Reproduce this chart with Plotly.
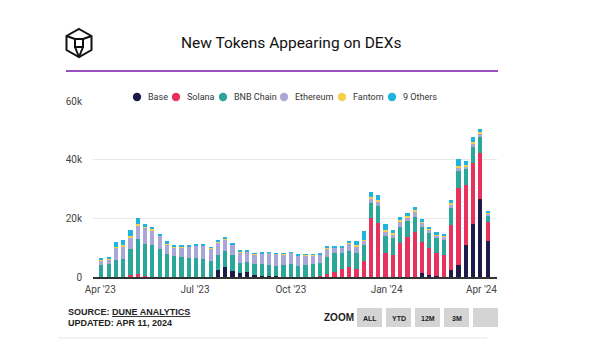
import pandas as pd
import plotly.graph_objects as go

# ---------------- data ----------------
weeks = pd.date_range("2023-04-02", periods=54, freq="7D")

base = [0, 0, 0, 0, 0, 0, 0, 0, 0, 0, 0, 0, 0, 0, 0, 0, 2.3, 3.3, 2.2, 1.5,
        1.6, 0.6, 0.5, 0.3, 0.2, 0, 0, 0, 0, 0, 0, 0, 0, 0, 0, 0, 0, 0, 0, 0,
        0, 0, 0, 0, 1.4, 0.7, 0.2, 0, 2.4, 4.1, 10.9, 18.1, 26.5, 12.4]
solana = [0, 0, 0, 0, 0.8, 1.0, 0.2, 0.1, 0.1, 0, 0, 0, 0, 0, 0, 0, 0, 0, 0, 0,
          0, 0, 0, 0, 0, 0, 0, 0, 0, 0, 0.2, 0.9, 1.7, 2.7, 3.4, 2.7, 5.3, 20.1, 18.5, 8.3,
          7.5, 11.6, 13.5, 15.3, 10.5, 9.2, 7.9, 7.4, 15.3, 26.4, 20.4, 20.7, 15.9, 6.5]
bnb = [4.0, 4.3, 5.7, 6.25, 8.6, 12.1, 11.2, 10.9, 9.3, 8.0, 7.2, 6.8, 6.4, 6.6, 6.0, 5.5, 5.3, 5.6, 5.2, 3.4,
       3.6, 3.9, 3.9, 3.8, 3.55, 4.0, 4.5, 3.8, 4.1, 4.3, 4.7, 5.8, 6.4, 5.4, 5.6, 5.4, 5.6, 5.2, 5.8, 5.7,
       5.7, 5.6, 5.6, 5.3, 5.0, 5.0, 5.1, 5.2, 5.7, 5.6, 5.4, 5.6, 5.4, 2.2]
ethereum = [1.7, 1.6, 4.5, 4.25, 4.0, 4.5, 5.4, 4.9, 4.6, 3.1, 3.0, 3.4, 3.9, 4.2, 4.6, 4.3, 4.2, 3.9, 3.7, 3.6,
            3.4, 3.3, 3.6, 4.1, 4.1, 3.8, 3.7, 3.5, 3.3, 3.1, 2.8, 3.1, 2.0, 2.0, 2.5, 2.4, 1.5, 1.5, 1.4, 1.5,
            1.4, 1.7, 1.2, 1.7, 1.6, 1.4, 1.1, 1.2, 1.3, 1.2, 1.1, 1.2, 1.2, 0.6]
fantom = [0.1, 0.1, 0.1, 0.3, 0.5, 0.4, 0.4, 0.3, 0.2, 0.2, 0.1, 0.1, 0.1, 0.1, 0.1, 0.1, 0.2, 0.3, 0.1, 0.2,
          0.2, 0.1, 0.1, 0.1, 0.1, 0.1, 0.1, 0.1, 0.1, 0.1, 0.1, 0.1, 0.1, 0.1, 0.3, 0.3, 0.3, 0.6, 0.6, 0.5,
          0.4, 0.4, 0.4, 0.4, 0.3, 0.3, 0.3, 0.3, 0.4, 0.4, 0.4, 0.4, 0.3, 0.2]
others = [0.8, 0.8, 1.6, 1.7, 2.0, 2.1, 0.8, 0.8, 0.6, 1.1, 0.5, 0.5, 0.3, 0.5, 0.3, 0.3, 0.5, 0.5, 0.4, 0.4,
          0.5, 0.2, 0.2, 0.2, 0.15, 0.2, 0.2, 0.2, 0.3, 0.3, 0.3, 0.4, 0.4, 0.4, 0.5, 1.6, 3.0, 1.7, 1.5, 2.0,
          1.0, 1.0, 1.0, 1.1, 1.0, 0.6, 0.6, 0.6, 1.2, 2.4, 1.3, 1.6, 1.0, 0.7]

series_names = ["Base", "Solana", "BNB Chain", "Ethereum", "Fantom", "9 Others"]
series_values = [base, solana, bnb, ethereum, fantom, others]
series_colors = ["#1d1b4a", "#e8315b", "#2aa799", "#aba6d8", "#f6d04d", "#1fb3e0"]

x_tick_vals = ["2023-04-01", "2023-07-01", "2023-10-01", "2024-01-01", "2024-04-01"]
x_tick_text = ["Apr '23", "Jul '23", "Oct '23", "Jan '24", "Apr '24"]
y_tick_vals = [0, 20000, 40000, 60000]
y_tick_text = ["0", "20k", "40k", "60k"]

# ---------------- layout geometry (pixels) ----------------
W, H = 600, 351
L, R, T, B = 93, 497, 101, 277
pw, ph = R - L, B - T


def px(x):
    return (x - L) / pw


def py(y):
    return (B - y) / ph


fig = go.Figure()
for name, vals, col in zip(series_names, series_values, series_colors):
    fig.add_trace(go.Bar(x=weeks, y=[v * 1000 for v in vals], name=name,
                         marker=dict(color=col, line=dict(width=0)),
                         showlegend=False))

shapes = []
annotations = []
BOLD = "Liberation Sans, Arial, sans-serif"
SANS = "Roboto, Open Sans, sans-serif"

# legend (circle markers + labels)
leg_circle_x = [137, 176, 223, 284, 342, 392]
leg_y = 97
for name, col, cxl in zip(series_names, series_colors, leg_circle_x):
    shapes.append(dict(type="circle", xref="paper", yref="paper",
                       x0=px(cxl - 4.2), x1=px(cxl + 4.2), y0=py(leg_y + 4.2), y1=py(leg_y - 4.2),
                       fillcolor=col, line=dict(width=0)))
    annotations.append(dict(text=name, xref="paper", yref="paper",
                            x=px(cxl + 9), y=py(leg_y), xanchor="left", yanchor="middle",
                            showarrow=False,
                            font=dict(family=SANS, size=9, color="#333")))

# purple rule under title
shapes.append(dict(type="line", xref="paper", yref="paper",
                   x0=px(66), x1=px(498), y0=py(71), y1=py(71),
                   line=dict(color="#9b4fc4", width=2)))
# bottom light rule
shapes.append(dict(type="line", xref="paper", yref="paper",
                   x0=px(58), x1=px(487), y0=py(338), y1=py(338),
                   line=dict(color="#e6e6e6", width=1)))
# logo: hexagon cube
cx, cy, r = 79, 43, 14
hexpts = [(cx, cy - r), (cx + 12.5, cy - r / 2), (cx + 12.5, cy + r / 2),
          (cx, cy + r), (cx - 12.5, cy + r / 2), (cx - 12.5, cy - r / 2)]
path = "M " + " L ".join(f"{px(a)},{py(b)}" for a, b in hexpts) + " Z"
shapes.append(dict(type="path", xref="paper", yref="paper", path=path,
                   line=dict(color="#111", width=2)))
sq = [(cx - 4, cy - 4), (cx + 4, cy - 4), (cx + 4, cy + 4), (cx - 4, cy + 4)]
path = "M " + " L ".join(f"{px(a)},{py(b)}" for a, b in sq) + " Z"
shapes.append(dict(type="path", xref="paper", yref="paper", path=path,
                   line=dict(color="#111", width=2)))
for (a, b), (c, d) in [((cx - 12.5, cy - r / 2), (cx - 4, cy - 4)),
                       ((cx + 12.5, cy - r / 2), (cx + 4, cy - 4)),
                       ((cx - 4, cy + 4), (cx, cy + r)),
                       ((cx + 4, cy + 4), (cx, cy + r))]:
    shapes.append(dict(type="line", xref="paper", yref="paper",
                       x0=px(a), y0=py(b), x1=px(c), y1=py(d),
                       line=dict(color="#111", width=2)))

annotations.append(dict(text="New Tokens Appearing on DEXs", xref="paper", yref="paper",
                        x=px(291), y=py(43), xanchor="center", yanchor="middle", showarrow=False,
                        font=dict(family=SANS, size=15.5, color="#111")))
annotations.append(dict(text="<b>SOURCE: <u>DUNE ANALYTICS</u></b>", xref="paper", yref="paper",
                        x=px(66), y=py(312), xanchor="left", yanchor="middle", showarrow=False,
                        font=dict(family=BOLD, size=9, color="#222")))
annotations.append(dict(text="<b>UPDATED: APR 11, 2024</b>", xref="paper", yref="paper",
                        x=px(66), y=py(323), xanchor="left", yanchor="middle", showarrow=False,
                        font=dict(family=BOLD, size=9, color="#222")))
annotations.append(dict(text="<b>ZOOM</b>", xref="paper", yref="paper",
                        x=px(339), y=py(317), xanchor="center", yanchor="middle", showarrow=False,
                        font=dict(family=BOLD, size=10, color="#222")))
buttons = ["ALL", "YTD", "12M", "3M", ""]
for i, lab in enumerate(buttons):
    x0 = 357 + i * 29
    shapes.append(dict(type="rect", xref="paper", yref="paper",
                       x0=px(x0), x1=px(x0 + 25), y0=py(308), y1=py(327),
                       fillcolor="#d4d4d4", line=dict(width=0)))
    if lab:
        annotations.append(dict(text=f"<b>{lab}</b>", xref="paper", yref="paper",
                                x=px(x0 + 12.5), y=py(318), xanchor="center", yanchor="middle",
                                showarrow=False,
                                font=dict(family=BOLD, size=7, color="#222")))

fig.update_layout(
    width=W, height=H,
    margin=dict(l=L, r=W - R, t=T, b=H - B, pad=0),
    paper_bgcolor="white", plot_bgcolor="white",
    barmode="stack", bargap=0.42, showlegend=False,
    font=dict(family=SANS, size=10, color="#444"),
    shapes=shapes, annotations=annotations,
)
fig.update_xaxes(type="date", range=["2023-03-25", "2024-04-16"],
                 tickvals=x_tick_vals, ticktext=x_tick_text,
                 showgrid=False, showline=True, linecolor="#333", linewidth=1.5,
                 ticks="", ticklabelstandoff=2, tickfont=dict(family=SANS, size=10, color="#444"))
fig.update_yaxes(range=[0, 60000], tickvals=y_tick_vals, ticktext=y_tick_text,
                 showgrid=True, gridcolor="#e8e8e8", zeroline=False,
                 ticks="", ticklabelstandoff=10, tickfont=dict(family=SANS, size=10, color="#444"))

fig.write_html("out.html")
